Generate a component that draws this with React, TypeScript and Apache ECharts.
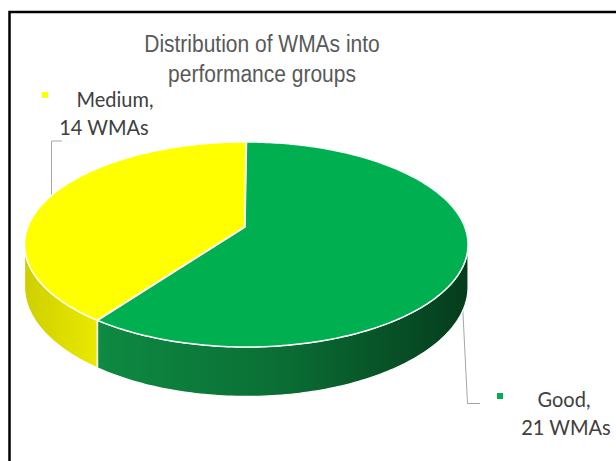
import React, { useEffect, useRef } from 'react';
import * as echarts from 'echarts';

// ---- data ----
const categories = ['Good', 'Medium'];
const values = [21, 14];
const unitLabel = 'WMAs';
const titleLines = ['Distribution of WMAs into', 'performance groups'];

// ---- styles ----
const topColors = ['#00b050', '#ffff00'];
const sideStops = [
  ['#0e8a42', '#0a6e34', '#053c1d'],
  ['#cfcf00', '#e9e900'],
];
const explode = [0, 1.5];

// perspective-projected pie geometry
const G = { cx: 246.5, cy: 227, A: 218.3, B: 99.5, k: 0.1707, H: 41 };

function proj(thetaDeg: number, ox: number, oy: number, bottom: boolean): number[] {
  const t = (thetaDeg * Math.PI) / 180;
  const w = 1 + G.k * Math.cos(t);
  const x = G.cx + ox + (G.A * Math.sin(t)) / w;
  const y = G.cy + oy - (G.B * Math.cos(t)) / w + (bottom ? G.H / w : 0);
  return [x, y];
}

function sliceAngles(i: number, v: number) {
  const total = values.reduce((a, b) => a + b, 0);
  let before = 0;
  for (let j = 0; j < i; j++) before += values[j];
  const a1 = (before / total) * 360;
  const a2 = a1 + (v / total) * 360;
  return [a1, a2];
}

function offsetFor(i: number, a1: number, a2: number) {
  const mid = ((a1 + a2) / 2) * (Math.PI / 180);
  const d = explode[i] || 0;
  return [d * Math.sin(mid) * 0.3, -d * Math.cos(mid) * 0.3];
}

function renderTop(params: any, api: any) {
  const i = params.dataIndex;
  const [a1, a2] = sliceAngles(i, api.value(1));
  const [ox, oy] = offsetFor(i, a1, a2);
  const pts: number[][] = [[G.cx - 1.5 + ox, G.cy + oy]];
  const n = Math.max(2, Math.ceil(a2 - a1));
  for (let s = 0; s <= n; s++) pts.push(proj(a1 + ((a2 - a1) * s) / n, ox, oy, false));
  return {
    type: 'polygon',
    shape: { points: pts },
    style: { fill: topColors[i], stroke: '#ffffff', lineWidth: 1.5 },
  };
}

function renderSide(params: any, api: any) {
  const i = params.dataIndex;
  const [a1, a2] = sliceAngles(i, api.value(1));
  const [ox, oy] = offsetFor(i, a1, a2);
  const sil = (Math.acos(-G.k) * 180) / Math.PI;
  const s1 = Math.max(a1, sil);
  const s2 = Math.min(a2, 360 - sil);
  if (s2 <= s1) return { type: 'group', children: [] };
  const n = Math.max(2, Math.ceil(s2 - s1));
  const top: number[][] = [];
  const bot: number[][] = [];
  for (let s = 0; s <= n; s++) {
    const th = s1 + ((s2 - s1) * s) / n;
    top.push(proj(th, ox, oy, false));
    bot.push(proj(th, ox, oy, true));
  }
  const pts = top.concat(bot.reverse());
  const stops = sideStops[i].map((c, j, arr) => ({ offset: j / (arr.length - 1), color: c }));
  return {
    type: 'polygon',
    shape: { points: pts },
    style: {
      fill: new echarts.graphic.LinearGradient(0, 0, 1, 0, stops),
      stroke: '#ffffff',
      lineWidth: 1.2,
    },
  };
}

function titleText(text: string, y: number) {
  return {
    type: 'text',
    x: 262,
    y,
    scaleY: 1.15,
    style: {
      text,
      x: 0,
      y: 0,
      textAlign: 'center',
      textVerticalAlign: 'middle',
      font: '21px "Liberation Sans", Arial, sans-serif',
      fill: '#595959',
    },
  };
}

function labelText(text: string, x: number, y: number) {
  return {
    type: 'text',
    x,
    y,
    scaleY: 1.08,
    style: {
      text,
      x: 0,
      y: 0,
      textAlign: 'center',
      textVerticalAlign: 'middle',
      font: '20px Lato, "Open Sans", sans-serif',
      fill: '#404040',
    },
  };
}

export default function App() {
  const ref = useRef<HTMLDivElement>(null);
  useEffect(() => {
    if (!ref.current) return;
    const chart = echarts.init(ref.current, null, { renderer: 'svg' });
    const data = values.map((v, i) => ({ name: categories[i], value: [i, v] }));
    chart.setOption({
      animation: false,
      backgroundColor: '#ffffff',
      graphic: [
        {
          type: 'rect',
          shape: { x: 9.5, y: 12, width: 800, height: 800 },
          style: { fill: 'none', stroke: '#000000', lineWidth: 2.5 },
          z: 0,
        },
        titleText(titleLines[0], 44),
        titleText(titleLines[1], 74),
        // Medium label
        { type: 'rect', shape: { x: 42, y: 92, width: 6, height: 6 }, style: { fill: topColors[1] } },
        labelText(`${categories[1]},`, 115, 98),
        labelText(`${values[1]} ${unitLabel}`, 104, 126),
        {
          type: 'polyline',
          shape: { points: [[62, 141], [51.5, 141], [51.5, 197]] },
          style: { stroke: '#a6a6a6', lineWidth: 1, fill: 'none' },
        },
        // Good label
        { type: 'rect', shape: { x: 497, y: 393, width: 6, height: 6 }, style: { fill: topColors[0] } },
        labelText(`${categories[0]},`, 564, 398),
        labelText(`${values[0]} ${unitLabel}`, 566, 426),
        {
          type: 'polyline',
          shape: { points: [[462.5, 304], [467.5, 403.5], [480, 403.5]] },
          style: { stroke: '#a6a6a6', lineWidth: 1, fill: 'none' },
        },
      ],
      series: [
        { type: 'custom', coordinateSystem: 'none', z: 1, silent: true, renderItem: renderSide, data },
        { type: 'custom', coordinateSystem: 'none', z: 2, silent: true, renderItem: renderTop, data },
      ],
    });
    return () => chart.dispose();
  }, []);
  return (
    <div
      ref={ref}
      style={{ position: 'fixed', left: 0, top: 0, width: 616, height: 461 }}
    />
  );
}
